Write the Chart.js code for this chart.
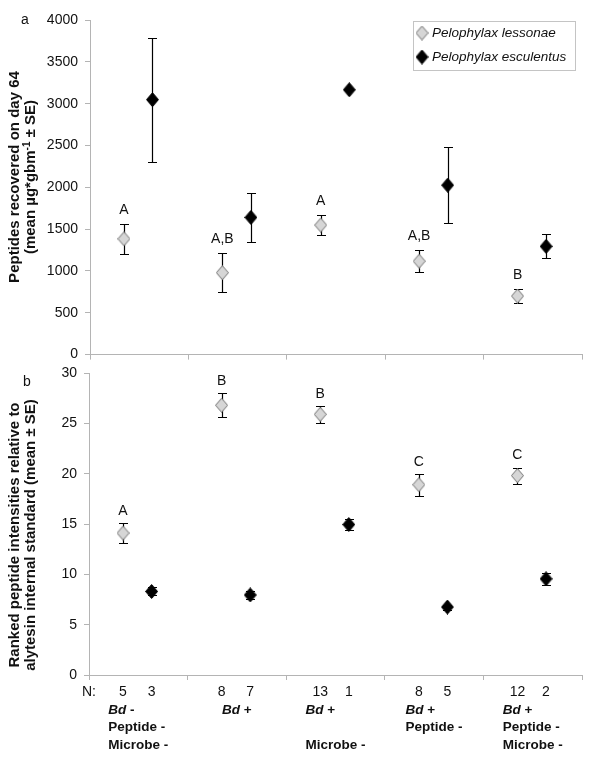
<!DOCTYPE html>
<html>
<head>
<meta charset="utf-8">
<script src="https://cdn.jsdelivr.net/npm/chart.js@4"></script>
<style>
    body { margin: 0; background: #fff; width: 600px; height: 759px; position: relative; overflow: hidden; }
    canvas { position: absolute; left: 0; }
    #peptides-chart { top: 0; }
    #ranks-chart { top: 355px; }
</style>
</head>
<body>
<canvas id="peptides-chart" width="600" height="370"></canvas>
<canvas id="ranks-chart" width="600" height="404"></canvas>
<script>
const FONT = "'Liberation Sans', Arial, sans-serif";

const speciesNames = ['Pelophylax lessonae', 'Pelophylax esculentus'];
const groupLabels = [
    ['Bd -', 'Peptide -', 'Microbe -'],
    ['Bd +'],
    ['Bd +', '', 'Microbe -'],
    ['Bd +', 'Peptide -'],
    ['Bd +', 'Peptide -', 'Microbe -']
];
const nLessonae = [5, 8, 13, 8, 12];
const nEsculentus = [3, 7, 1, 5, 2];

// panel a
const peptideLessonae = [1384, 979, 1549, 1117, 700];
const peptideLessonaeSE = [180, 235, 120, 130, 80];
const peptideEsculentus = [3048, 1640, 3166, 2026, 1294];
const peptideEsculentusSE = [740, 290, 0, 455, 145];
const peptideLetters = ['A', 'A,B', 'A', 'A,B', 'B'];
const peptideAxisMax = 4000;
const peptideAxisStep = 500;

// panel b
const rankLessonae = [14.1, 26.8, 25.9, 18.9, 19.8];
const rankLessonaeSE = [1.0, 1.2, 0.85, 1.1, 0.8];
const rankEsculentus = [8.3, 7.95, 14.95, 6.75, 9.55];
const rankEsculentusSE = [0.4, 0.4, 0.5, 0.25, 0.6];
const rankLetters = ['A', 'B', 'B', 'C', 'C'];
const rankAxisMax = 30;
const rankAxisStep = 5;

function diamond(fill, stroke) {
    const w = 13, h = 15;
    const c = document.createElement('canvas');
    c.width = w;
    c.height = h;
    const g = c.getContext('2d');
    g.beginPath();
    g.moveTo(w / 2, 0.5);
    g.lineTo(w - 0.5, h / 2);
    g.lineTo(w / 2, h - 0.5);
    g.lineTo(0.5, h / 2);
    g.closePath();
    g.fillStyle = fill;
    g.fill();
    g.strokeStyle = stroke;
    g.lineWidth = 1;
    g.stroke();
    return c;
}

const greyDiamond = diamond('#d6d6d6', '#6e6e6e');
const blackDiamond = diamond('#000', '#000');

const errorBars = {
    id: 'errorBars',
    beforeDatasetsDraw(chart) {
        const { ctx, scales: { x, y } } = chart;
        ctx.save();
        ctx.strokeStyle = '#000';
        ctx.lineWidth = 1.2;
        chart.data.datasets.forEach(ds => {
            ds.data.forEach((p, i) => {
                const se = ds.errors[i];
                if (!se) return;
                const px = Math.round(x.getPixelForValue(p.x)) + 0.5;
                const y1 = Math.round(y.getPixelForValue(p.y + se)) + 0.5;
                const y2 = Math.round(y.getPixelForValue(p.y - se)) + 0.5;
                ctx.beginPath();
                ctx.moveTo(px, y1); ctx.lineTo(px, y2);
                ctx.moveTo(px - 4.5, y1); ctx.lineTo(px + 4.5, y1);
                ctx.moveTo(px - 4.5, y2); ctx.lineTo(px + 4.5, y2);
                ctx.stroke();
            });
        });
        ctx.restore();
    }
};

const panelText = {
    id: 'panelText',
    afterDraw(chart, args, opts) {
        const { ctx, scales: { x, y } } = chart;
        ctx.save();
        ctx.fillStyle = '#111';

        // panel letter
        ctx.font = '14px ' + FONT;
        ctx.textAlign = 'left';
        ctx.textBaseline = 'middle';
        ctx.fillText(opts.panel, opts.panelX, opts.panelY);

        // significance letters above lessonae points
        const ds = chart.data.datasets[0];
        ctx.textAlign = 'center';
        opts.letters.forEach((t, i) => {
            const p = ds.data[i];
            const py = y.getPixelForValue(p.y + ds.errors[i]) - opts.letterGap;
            ctx.fillText(t, x.getPixelForValue(p.x), py);
        });

        // rotated y title
        const tf = 'bold 15px ' + FONT;
        const sf = 'bold 10px ' + FONT;
        opts.title.forEach((line, k) => {
            ctx.save();
            ctx.translate(opts.titleX[k], opts.titleY);
            ctx.rotate(-Math.PI / 2);
            ctx.textBaseline = 'middle';
            if (Array.isArray(line)) {
                // [before, superscript, after]
                ctx.font = tf;
                const w1 = ctx.measureText(line[0]).width;
                const w3 = ctx.measureText(line[2]).width;
                ctx.font = sf;
                const w2 = ctx.measureText(line[1]).width;
                const sx = -(w1 + w2 + w3) / 2;
                ctx.textAlign = 'left';
                ctx.font = tf;
                ctx.fillText(line[0], sx, 0);
                ctx.font = sf;
                ctx.fillText(line[1], sx + w1, -4);
                ctx.font = tf;
                ctx.fillText(line[2], sx + w1 + w2, 0);
            } else {
                ctx.font = tf;
                ctx.textAlign = 'center';
                ctx.fillText(line, 0, 0);
            }
            ctx.restore();
        });

        if (opts.legend) {
            const lx = 413.5, ly = 21.5;
            ctx.fillStyle = '#fff';
            ctx.fillRect(lx, ly, 162, 49);
            ctx.strokeStyle = '#c4c4c4';
            ctx.lineWidth = 1;
            ctx.strokeRect(lx, ly, 162, 49);
            ctx.font = 'italic 13.5px ' + FONT;
            ctx.textAlign = 'left';
            ctx.textBaseline = 'middle';
            ctx.fillStyle = '#111';
            [greyDiamond, blackDiamond].forEach((img, k) => {
                const cy = 33 + k * 24;
                ctx.drawImage(img, 422 - img.width / 2, cy - img.height / 2);
                ctx.fillText(speciesNames[k], 432, cy);
            });
        }

        if (opts.xLabels) {
            const ny = 337;
            ctx.font = '14px ' + FONT;
            ctx.textAlign = 'center';
            ctx.textBaseline = 'middle';
            ctx.fillStyle = '#111';
            ctx.fillText('N:', x.getPixelForValue(0), ny);
            chart.data.datasets.forEach((d, k) => {
                const ns = k === 0 ? nLessonae : nEsculentus;
                d.data.forEach((p, i) => ctx.fillText(String(ns[i]), x.getPixelForValue(p.x), ny));
            });

            ctx.textAlign = 'left';
            const bold = 'bold 13.5px ' + FONT;
            const boldIt = 'italic bold 13.5px ' + FONT;
            const lineWidth = s => {
                if (s.startsWith('Bd')) {
                    ctx.font = boldIt;
                    const a = ctx.measureText('Bd').width;
                    ctx.font = bold;
                    return a + ctx.measureText(s.slice(2)).width;
                }
                ctx.font = bold;
                return ctx.measureText(s).width;
            };
            groupLabels.forEach((lines, i) => {
                const cx = x.getPixelForValue(i + 0.5);
                const maxW = Math.max(...lines.map(lineWidth));
                const left = cx - maxW / 2;
                lines.forEach((s, j) => {
                    const ly = 355 + j * 17.5;
                    if (s.startsWith('Bd')) {
                        ctx.font = boldIt;
                        ctx.fillText('Bd', left, ly);
                        const a = ctx.measureText('Bd').width;
                        ctx.font = bold;
                        ctx.fillText(s.slice(2), left + a, ly);
                    } else {
                        ctx.font = bold;
                        ctx.fillText(s, left, ly);
                    }
                });
            });
        }
        ctx.restore();
    }
};

function toPoints(values, offset) {
    return values.map((v, i) => ({ x: i + 0.5 + offset, y: v }));
}

function makePanel(id, cfg) {
    const axisColor = '#b4b4b4';
    return new Chart(document.getElementById(id), {
        type: 'scatter',
        data: {
            datasets: [
                {
                    label: speciesNames[0],
                    data: toPoints(cfg.lessonae, -0.155),
                    errors: cfg.lessonaeSE,
                    pointStyle: greyDiamond
                },
                {
                    label: speciesNames[1],
                    data: toPoints(cfg.esculentus, 0.135),
                    errors: cfg.esculentusSE,
                    pointStyle: blackDiamond
                }
            ]
        },
        options: {
            responsive: false,
            animation: false,
            layout: { padding: { top: cfg.padTop, right: 18, left: 0, bottom: 0 } },
            plugins: {
                legend: { display: false },
                tooltip: { enabled: false },
                panelText: cfg.text
            },
            scales: {
                x: {
                    type: 'linear',
                    min: 0,
                    max: 5,
                    ticks: { display: false, stepSize: 1 },
                    grid: { drawOnChartArea: false, color: axisColor, tickLength: 5 },
                    border: { color: axisColor },
                    afterFit(s) { s.height = cfg.xHeight; }
                },
                y: {
                    min: 0,
                    max: cfg.yMax,
                    ticks: {
                        stepSize: cfg.yStep,
                        color: '#111',
                        padding: 7,
                        font: { family: FONT, size: 14 },
                        callback: v => String(v)
                    },
                    grid: { drawOnChartArea: false, color: axisColor, tickLength: 5 },
                    border: { color: axisColor },
                    afterFit(s) { s.width = cfg.yWidth; }
                }
            }
        },
        plugins: [errorBars, panelText]
    });
}

makePanel('peptides-chart', {
    lessonae: peptideLessonae,
    lessonaeSE: peptideLessonaeSE,
    esculentus: peptideEsculentus,
    esculentusSE: peptideEsculentusSE,
    yMax: peptideAxisMax,
    yStep: peptideAxisStep,
    padTop: 20,
    xHeight: 11,
    yWidth: 90,
    text: {
        panel: 'a', panelX: 21, panelY: 20,
        letters: peptideLetters, letterGap: 14,
        title: ['Peptides recovered on day 64', ['(mean µg*gbm', '-1', ' ± SE)']],
        titleX: [15, 31], titleY: 177,
        legend: true, xLabels: false
    }
});

makePanel('ranks-chart', {
    lessonae: rankLessonae,
    lessonaeSE: rankLessonaeSE,
    esculentus: rankEsculentus,
    esculentusSE: rankEsculentusSE,
    yMax: rankAxisMax,
    yStep: rankAxisStep,
    padTop: 18,
    xHeight: 84,
    yWidth: 89,
    text: {
        panel: 'b', panelX: 23, panelY: 27,
        letters: rankLetters, letterGap: 12,
        title: ['Ranked peptide intensities relative to', 'alytesin internal standard (mean ± SE)'],
        titleX: [15, 31], titleY: 180,
        legend: false, xLabels: true
    }
});
</script>
</body>
</html>
